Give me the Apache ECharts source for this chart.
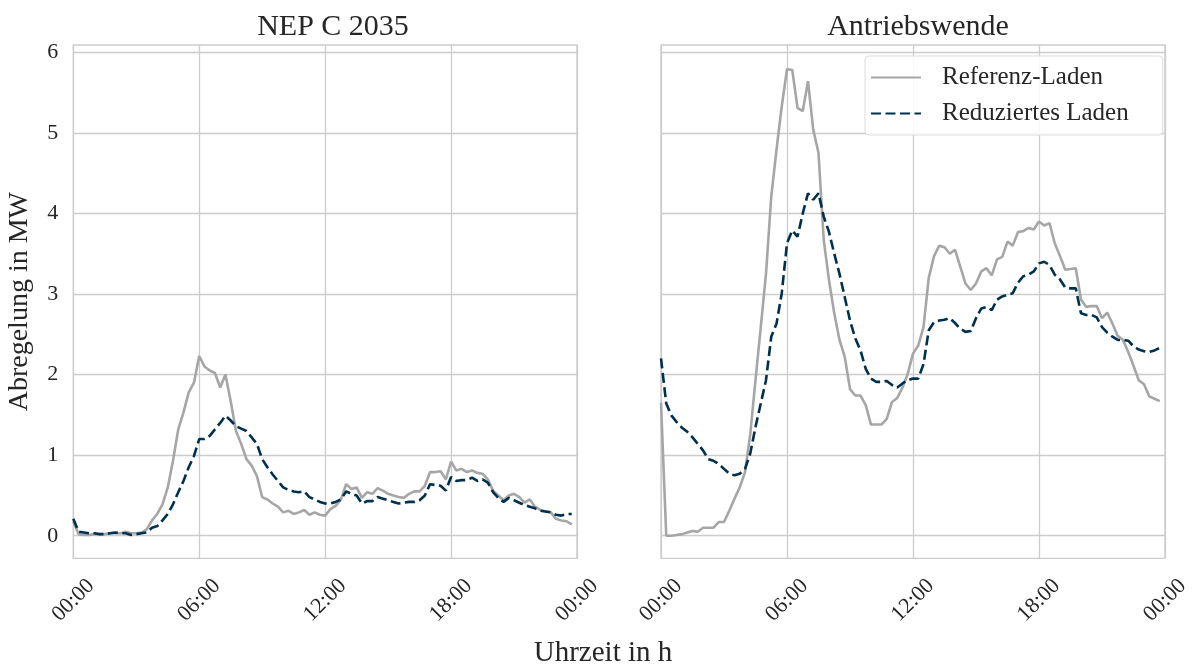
<!DOCTYPE html>
<html>
<head>
<meta charset="utf-8">
<script src="https://cdn.jsdelivr.net/npm/echarts@6/dist/echarts.min.js"></script>
<style>html,body{margin:0;padding:0;background:#fff}#c{width:1193px;height:669px}</style>
</head>
<body>
<div id="c"></div>
<script>
// 15-minute time steps in hours (00:00 ... 23:45)
const hours = Array.from({length: 96}, (_, i) => i * 0.25);
const xTicks = [0, 6, 12, 18, 24];
const yTicks = [0, 1, 2, 3, 4, 5, 6];
const panelTitles = ['NEP C 2035', 'Antriebswende'];
const seriesNames = ['Referenz-Laden', 'Reduziertes Laden'];
const yAxisTitle = 'Abregelung in MW';
const xAxisTitle = 'Uhrzeit in h';

const refNEP = [0.18,0.02,0.01,0.01,0.02,0.02,0.02,0.03,0.03,0.03,0.05,0.03,0.03,0.04,0.08,0.19,
  0.27,0.39,0.6,0.93,1.32,1.53,1.78,1.9,2.23,2.1,2.05,2.02,1.84,2.0,1.67,1.3,
  1.14,0.95,0.87,0.74,0.48,0.45,0.4,0.36,0.29,0.31,0.27,0.29,0.32,0.26,0.29,0.26,
  0.25,0.33,0.37,0.45,0.64,0.58,0.6,0.47,0.54,0.52,0.59,0.56,0.52,0.5,0.48,0.47,
  0.52,0.55,0.55,0.62,0.79,0.79,0.8,0.7,0.92,0.81,0.83,0.79,0.81,0.78,0.77,0.7,
  0.56,0.5,0.44,0.5,0.52,0.48,0.41,0.45,0.36,0.32,0.3,0.29,0.21,0.19,0.18,0.14];
const redNEP = [0.21,0.05,0.04,0.03,0.03,0.02,0.02,0.03,0.04,0.03,0.03,0.01,0.02,0.03,0.04,0.1,
  0.12,0.19,0.27,0.39,0.54,0.68,0.85,0.99,1.2,1.2,1.24,1.32,1.4,1.49,1.43,1.36,
  1.33,1.3,1.22,1.14,0.95,0.85,0.76,0.68,0.6,0.57,0.55,0.54,0.55,0.48,0.45,0.42,
  0.4,0.4,0.42,0.45,0.55,0.52,0.5,0.4,0.43,0.43,0.48,0.46,0.44,0.42,0.4,0.41,
  0.42,0.42,0.44,0.5,0.64,0.63,0.62,0.56,0.73,0.68,0.69,0.69,0.72,0.68,0.7,0.66,
  0.54,0.47,0.42,0.47,0.44,0.41,0.38,0.36,0.34,0.31,0.3,0.29,0.26,0.25,0.27,0.27];
const refAW = [1.65,0.0,0.0,0.01,0.02,0.04,0.06,0.05,0.1,0.1,0.1,0.17,0.17,0.31,0.46,0.6,
  0.79,1.26,1.93,2.59,3.25,4.21,4.79,5.33,5.79,5.78,5.31,5.27,5.64,5.04,4.75,3.67,
  3.17,2.76,2.43,2.22,1.82,1.74,1.74,1.62,1.38,1.38,1.38,1.45,1.66,1.71,1.84,2.01,
  2.26,2.36,2.59,3.2,3.47,3.6,3.58,3.5,3.55,3.34,3.13,3.05,3.13,3.28,3.32,3.23,
  3.43,3.46,3.65,3.6,3.77,3.78,3.82,3.8,3.9,3.85,3.88,3.63,3.47,3.3,3.31,3.32,
  2.93,2.84,2.85,2.85,2.7,2.77,2.63,2.48,2.43,2.28,2.11,1.93,1.88,1.73,1.7,1.67];
const redAW = [2.2,1.64,1.49,1.41,1.34,1.29,1.22,1.14,1.06,0.95,0.93,0.89,0.83,0.77,0.75,0.77,
  0.83,1.02,1.35,1.64,1.93,2.47,2.63,3.01,3.63,3.79,3.71,4.0,4.25,4.17,4.25,3.96,
  3.77,3.5,3.25,2.96,2.67,2.45,2.3,2.07,1.95,1.91,1.91,1.92,1.87,1.84,1.89,1.93,
  1.95,1.95,2.13,2.55,2.65,2.67,2.68,2.7,2.64,2.57,2.53,2.54,2.7,2.82,2.84,2.8,
  2.93,2.97,2.99,3.01,3.14,3.22,3.24,3.28,3.38,3.4,3.36,3.24,3.18,3.08,3.07,3.07,
  2.76,2.74,2.74,2.71,2.59,2.52,2.47,2.43,2.43,2.42,2.35,2.31,2.29,2.28,2.3,2.33];

const FONT = 'Liberation Serif';
const TXT = '#262626';
const GREY = '#a6a6a6';
const NAVY = '#00304f';
const GRIDC = '#cccccc';

const pair = arr => hours.map((h, i) => [h, arr[i]]);
const fmt = v => { const h = ((v % 24) + 24) % 24; return (h < 10 ? '0' : '') + h + ':00'; };

const grids = [
  {left: 73.3, top: 45, width: 503.7, height: 513.3, show: true, borderColor: GRIDC, borderWidth: 1.3, backgroundColor: '#fff'},
  {left: 661, top: 45, width: 504, height: 513.3, show: true, borderColor: GRIDC, borderWidth: 1.3, backgroundColor: '#fff'}
];
const mkX = (gi) => ({
  type: 'value', gridIndex: gi, min: 0, max: 24, interval: 6,
  axisLine: {show: false}, axisTick: {show: false, customValues: xTicks},
  splitLine: {show: true, lineStyle: {color: GRIDC, width: 1.3}},
  axisLabel: {formatter: fmt, rotate: 45, align: 'center', verticalAlign: 'middle', margin: 42,
    fontFamily: FONT, fontSize: 22, color: TXT, customValues: xTicks}
});
const mkY = (gi) => ({
  type: 'value', gridIndex: gi, min: -0.28, max: 6.09,
  axisLine: {show: false}, axisTick: {show: false, customValues: yTicks},
  splitLine: {show: true, lineStyle: {color: GRIDC, width: 1.3}},
  axisLabel: {show: gi === 0, fontFamily: FONT, fontSize: 22, color: TXT, margin: 15, customValues: yTicks},
  name: gi === 0 ? yAxisTitle : '', nameLocation: 'middle', nameGap: 40,
  nameTextStyle: {fontFamily: FONT, fontSize: 28, color: TXT}
});

const mkSeries = (name, data, gi, dashed) => ({
  name, type: 'line', xAxisIndex: gi, yAxisIndex: gi, data: pair(data),
  showSymbol: false, symbol: 'none', silent: true, animation: false,
  lineStyle: {color: dashed ? NAVY : GREY, width: 2.6, type: dashed ? [10, 4.5] : 'solid'},
  itemStyle: {color: dashed ? NAVY : GREY}, z: dashed ? 3 : 2
});

const chart = echarts.init(document.getElementById('c'), null, {renderer: 'canvas'});
chart.setOption({
  animation: false,
  title: [
    {text: panelTitles[0], left: 328, top: 7, textAlign: 'center', textStyle: {fontFamily: FONT, fontSize: 30, fontWeight: 'normal', color: TXT}},
    {text: panelTitles[1], left: 913, top: 7, textAlign: 'center', textStyle: {fontFamily: FONT, fontSize: 30, fontWeight: 'normal', color: TXT}}
  ],
  grid: grids,
  xAxis: [mkX(0), mkX(1)],
  yAxis: [mkY(0), mkY(1)],
  legend: {
    data: seriesNames, orient: 'vertical', left: 865, top: 56,
    backgroundColor: 'rgba(255,255,255,0.85)', borderColor: '#dcdcdc', borderWidth: 1, borderRadius: 4,
    padding: [9, 34, 9, 5], itemGap: 11, itemWidth: 50, itemHeight: 14,
    itemStyle: {opacity: 0},
    textStyle: {fontFamily: FONT, fontSize: 25, color: TXT, padding: [0, 0, 0, 16]}
  },
  graphic: [{type: 'text', x: 603, y: 653, style: {text: xAxisTitle, font: '29px "Liberation Serif"', fill: TXT, align: 'center', verticalAlign: 'middle'}}],
  series: [
    mkSeries(seriesNames[0], refNEP, 0, false),
    mkSeries(seriesNames[1], redNEP, 0, true),
    mkSeries(seriesNames[0], refAW, 1, false),
    mkSeries(seriesNames[1], redAW, 1, true)
  ]
});
</script>
</body>
</html>
